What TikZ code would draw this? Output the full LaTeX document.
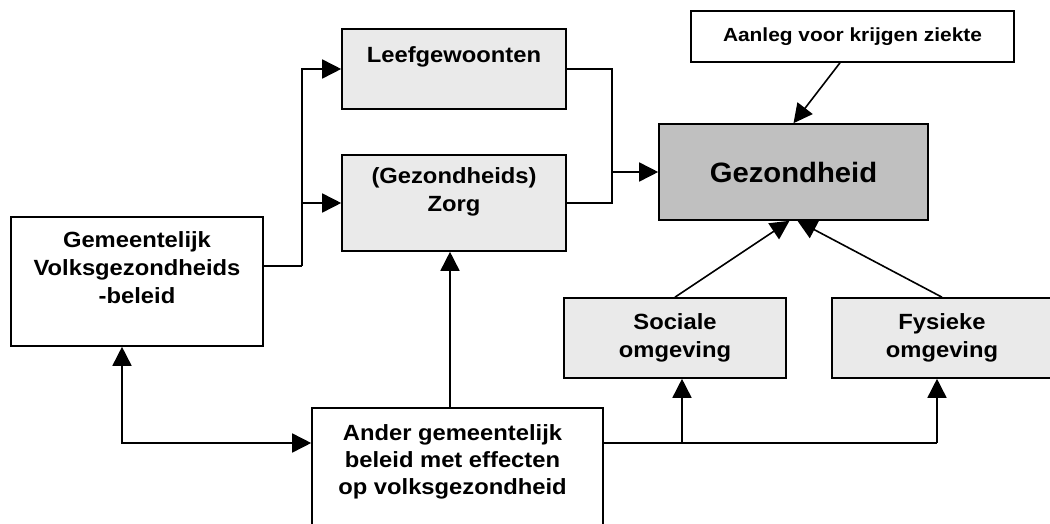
\documentclass[tikz,border=0pt]{standalone}
\usepackage{fontspec}
\setmainfont{Liberation Sans}
\newfontfamily\mainwide[FakeStretch=1.08]{Liberation Sans}
\newfontfamily\smallwide[FakeStretch=1.1]{Liberation Sans}
\newfontfamily\bigwide[FakeStretch=1.045]{Liberation Sans}
\usetikzlibrary{arrows.meta}
\definecolor{lightbox}{HTML}{EAEAEA}
\definecolor{darkbox}{HTML}{C0C0C0}
\begin{document}
\begin{tikzpicture}[x=1pt,y=-1pt,
  box/.style={draw=black,line width=1.6pt,rectangle,inner sep=0pt},
  graybox/.style={box,fill=lightbox},
  whitebox/.style={box,fill=white},
  boxtext/.style={anchor=base,align=center,inner sep=0pt,font=\mainwide\fontsize{22}{28}\selectfont\bfseries},
  conn/.style={line width=1.6pt},
  arr/.style={conn,-{Triangle[length=19pt,width=19pt]}},
  arrtwo/.style={conn,{Triangle[length=19pt,width=19pt]}-{Triangle[length=19pt,width=19pt]}}]
\clip (0,0) rectangle (1050,524);
\fill[white] (0,0) rectangle (1050,524);
% boxes
\node[graybox,minimum width=224pt,minimum height=80pt] (leef) at (454,69) {};
\node[graybox,minimum width=224pt,minimum height=96pt] (zorg) at (454,203) {};
\node[whitebox,minimum width=252pt,minimum height=129pt] (gem) at (137,281.5) {};
\node[box,fill=darkbox,minimum width=269pt,minimum height=96pt,font=\bigwide\fontsize{28}{34}\selectfont\bfseries] (gez) at (793.5,172) {Gezondheid};
\node[whitebox,minimum width=323pt,minimum height=51pt,font=\smallwide\fontsize{19}{23}\selectfont\bfseries] (aan) at (852.5,36.5) {Aanleg voor krijgen ziekte};
\node[graybox,minimum width=222pt,minimum height=80pt] (soc) at (675,338) {};
\node[graybox,minimum width=220pt,minimum height=80pt] (fys) at (942,338) {};
\node[whitebox,minimum width=291pt,minimum height=160pt] (ander) at (457.5,488) {};
% texts (base anchor = baseline of the last line)
\node[boxtext] (leeft) at ([yshift=-34pt]leef.north) {Leefgewoonten};
\node[boxtext] (zorgt) at ([yshift=-57pt]zorg.north) {(Gezondheids)\\Zorg};
\node[boxtext] (gemt) at ([yshift=-87pt]gem.north) {Gemeentelijk\\Volksgezondheids\\-beleid};
\node[boxtext] (soct) at ([yshift=-60pt]soc.north) {Sociale\\omgeving};
\node[boxtext] (fyst) at ([yshift=-60pt]fys.north) {Fysieke\\omgeving};
\node[boxtext,font=\mainwide\fontsize{22}{27}\selectfont\bfseries] (andert) at ([yshift=-87pt,xshift=-5pt]ander.north) {Ander gemeentelijk\\beleid met effecten\\op volksgezondheid};
% junction coordinates
\coordinate (j1) at (302,266);
\coordinate (j2) at (612,172);
\coordinate (j3) at (682,443);
\coordinate (j4) at (937,443);
\coordinate (j5) at (122,443);
\coordinate (za) at ([xshift=-4pt]zorg.south);
% connectors
\draw[conn] (gem.east |- j1) -- (j1);
\draw[arr] (j1) |- (leef.west);
\draw[arr] (j1) |- (zorg.west);
\draw[conn] (leef.east) -| (j2);
\draw[conn] (zorg.east) -| (j2);
\draw[arr] (j2) -- (gez.west);
\draw[arr] ([xshift=-12.5pt]aan.south) -- (gez.north);
\draw[arr] (soc.north) -- ([xshift=-4pt]gez.south);
\draw[arr] (fys.north) -- ([xshift=4pt]gez.south);
\draw[arr] (ander.north -| za) -- (za);
\draw[conn] (ander.east |- j3) -- (j4);
\draw[arr] (j3) -- (j3 |- soc.south);
\draw[arr] (j4) -- (j4 |- fys.south);
\draw[arrtwo] (j5 |- gem.south) -- (j5) -- (ander.west |- j5);
\end{tikzpicture}
\end{document}
